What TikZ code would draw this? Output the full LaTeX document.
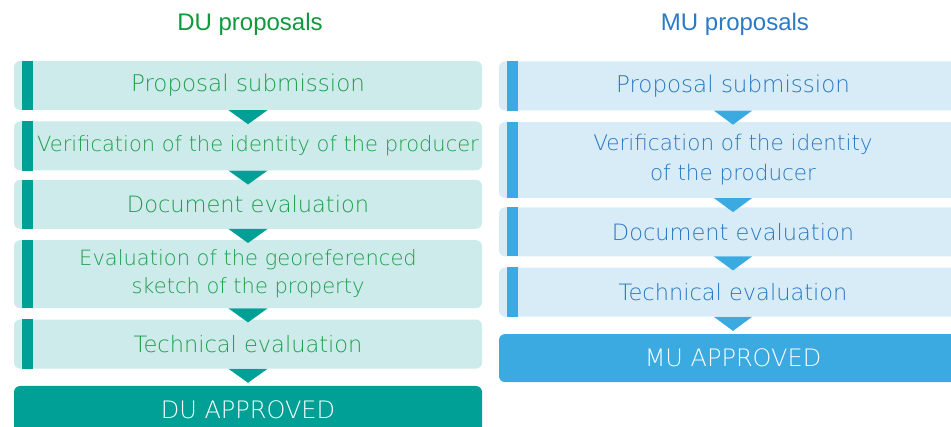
\documentclass[tikz,border=0pt]{standalone}
\usepackage{fontspec}
\setmainfont{Liberation Sans}
\newfontfamily\stepfont{DejaVu Sans ExtraLight}
\usetikzlibrary{positioning}
\definecolor{duteal}{HTML}{00A096}
\definecolor{dulight}{HTML}{CCEBEA}
\definecolor{dutext}{HTML}{1E9E4C}
\definecolor{dutitle}{HTML}{0E9A3C}
\definecolor{mublue}{HTML}{3AAAE0}
\definecolor{mulight}{HTML}{D7ECF7}
\definecolor{mutext}{HTML}{2878C2}
\definecolor{mutitle}{HTML}{2A7AC8}
\tikzset{
        stepnode/.style={align=center, inner sep=0pt, rounded corners=6pt, minimum width=468pt, minimum height=49pt, font=\stepfont\fontsize{22.5}{29}\selectfont},
        % DU steps
        du_step/.style={stepnode, fill=dulight, text=dutext},
        % MU steps
        mu_step/.style={stepnode, fill=mulight, text=mutext},
        % Final approval boxes
        du_final/.style={stepnode, fill=duteal, text=white, minimum height=48pt, font=\stepfont\fontsize{24}{29}\selectfont},
        mu_final/.style={stepnode, fill=mublue, text=white, minimum height=48pt, font=\stepfont\fontsize{24}{29}\selectfont},
        % Column titles
        col_title/.style={inner sep=0pt, font=\fontsize{24}{29}\selectfont}
}
\begin{document}
\begin{tikzpicture}[x=1pt, y=-1pt, node distance=11pt]
    \useasboundingbox (0,0) rectangle (951,427);
    \clip (0,0) rectangle (951,427);
    % DU column
    \node[col_title, text=dutitle] (dutitle) at (250,24) {DU proposals};
    \node[du_step, font=\stepfont\fontsize{23}{29}\selectfont] (du1) at (248,85.5) {Proposal submission};
    \node[du_step, below=of du1, font=\stepfont\fontsize{21}{29}\selectfont] (du2) {\hspace*{20pt}Verification of the identity of the producer};
    \node[du_step, below=9pt of du2] (du3) {Document evaluation};
    \node[du_step, below=of du3, minimum height=68pt, font=\stepfont\fontsize{21}{28}\selectfont] (du4) {Evaluation of the georeferenced\\sketch of the property};
    \node[du_step, below=of du4] (du5) {Technical evaluation};
    \node[du_final, below=17pt of du5] (duok) {DU APPROVED};
    % MU column
    \node[col_title, text=mutitle] (mutitle) at (735,24) {MU proposals};
    \node[mu_step, font=\stepfont\fontsize{23}{29}\selectfont] (mu1) at (733,86) {Proposal submission};
    \node[mu_step, below=of mu1, minimum height=76pt, font=\stepfont\fontsize{21.5}{30}\selectfont] (mu2) {Verification of the identity\\of the producer};
    \node[mu_step, below=9pt of mu2] (mu3) {Document evaluation};
    \node[mu_step, below=of mu3] (mu4) {Technical evaluation};
    \node[mu_final, below=17pt of mu4] (muok) {MU APPROVED};
    % bars and arrows
    \foreach \n in {du1,du2,du3,du4,du5} {
        \fill[duteal] ([xshift=8pt]\n.north west) rectangle ([xshift=19pt]\n.south west);
        \fill[duteal] ([xshift=-19.5pt]\n.south) -- ([xshift=19.5pt]\n.south) -- ([yshift=-14pt]\n.south) -- cycle;
    }
    \foreach \n in {mu1,mu2,mu3,mu4} {
        \fill[mublue] ([xshift=8pt]\n.north west) rectangle ([xshift=19pt]\n.south west);
        \fill[mublue] ([xshift=-19pt]\n.south) -- ([xshift=19pt]\n.south) -- ([yshift=-14pt]\n.south) -- cycle;
    }
\end{tikzpicture}
\end{document}
